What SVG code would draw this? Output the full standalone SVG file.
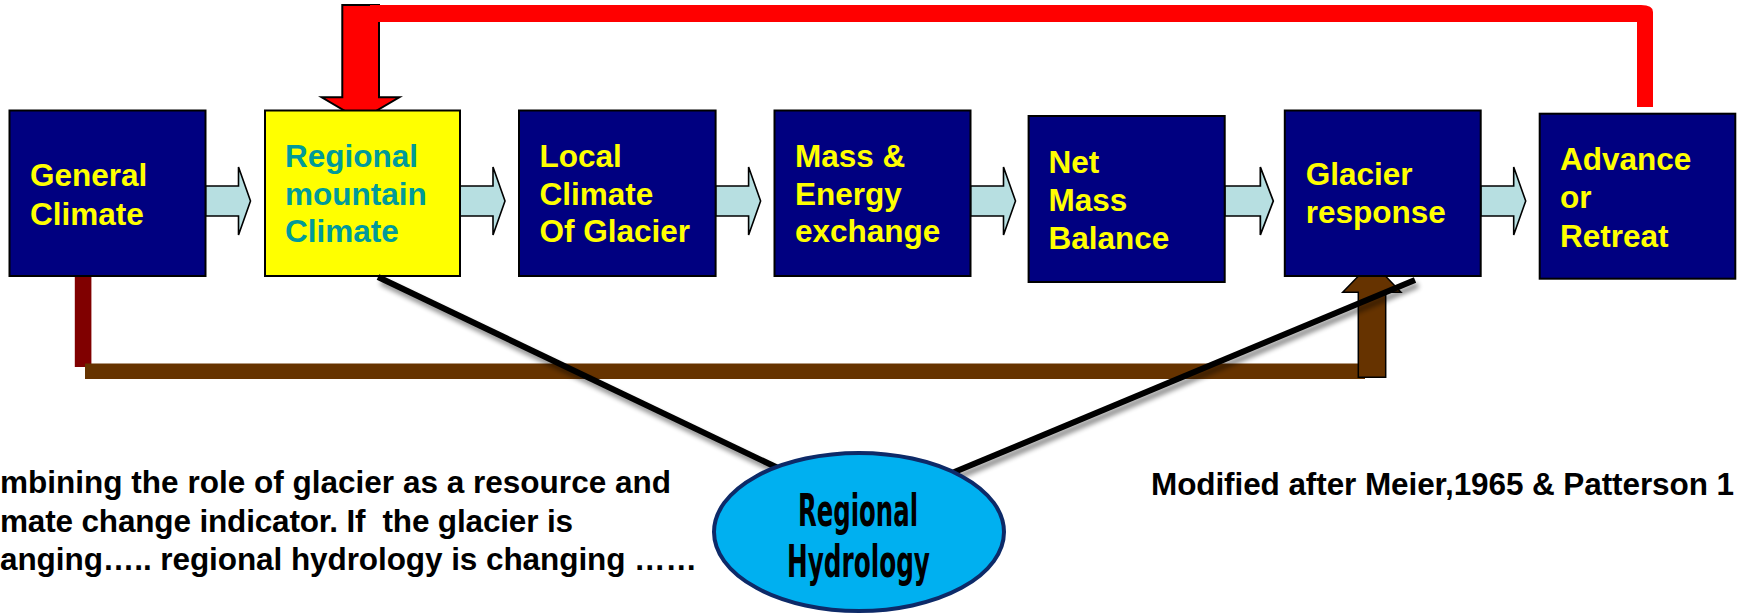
<svg xmlns="http://www.w3.org/2000/svg" width="1738" height="615" viewBox="0 0 1738 615">
  <defs>
    <filter id="softShadow" x="-10%" y="-10%" width="130%" height="140%">
      <feGaussianBlur in="SourceAlpha" stdDeviation="2.5"/>
      <feOffset dx="3" dy="5" result="off"/>
      <feComponentTransfer><feFuncA type="linear" slope="0.45"/></feComponentTransfer>
      <feMerge><feMergeNode/><feMergeNode in="SourceGraphic"/></feMerge>
    </filter>
    <path id="flowArrow" d="M0,0 L33,0 L33,-19 L45,15 L33,49 L33,30 L0,30 Z"/>
  </defs>
  <style>
    .box { fill: #000080; stroke: #000; stroke-width: 2; }
    .boxY { fill: #FFFF00; stroke: #000; stroke-width: 2; }
    .lbl { font-family: "Liberation Sans", Arial, sans-serif; font-weight: bold; font-size: 31.5px; fill: #FFFF00; }
    .lblT { fill: #009A9A; }
    .flow { fill: #B7DFE1; stroke: #000; stroke-width: 1.6; }
    .link { stroke: #000; stroke-width: 6; fill: none; stroke-linecap: butt; }
    .note { font-family: "Liberation Sans", Arial, sans-serif; font-weight: bold; font-size: 31.5px; fill: #000; }
    .hydro { font-family: "Liberation Sans Narrow", "DejaVu Sans Condensed", "Liberation Sans", sans-serif; font-weight: bold; font-size: 44px; fill: #000; }
  </style>

  <rect width="1738" height="615" fill="#fff"/>

  <!-- connectors drawn behind the boxes -->
  <g id="connectors">
    <!-- red feedback loop: Advance or Retreat back to Regional mountain Climate -->
    <g id="feedback">
      <path d="M342.3,5 L379,5 L379,97.3 L399.3,97.3 L360.5,120 L321.7,97.3 L342.3,97.3 Z" fill="#FF0000" stroke="#000" stroke-width="2"/>
      <path d="M370,5 L1641,5 Q1653,5 1653,12 L1653,107 L1637,107 L1637,22 L370,22 Z" fill="#FF0000"/>
    </g>
    <!-- brown bypass: General Climate to Glacier response -->
    <g id="bypass">
      <rect x="74.8" y="275" width="16.6" height="92" fill="#800000"/>
      <rect x="85" y="363.5" width="1280" height="15.5" fill="#663300"/>
      <path d="M1358.3,377.3 L1358.3,292.3 L1342.7,292.3 L1372,262 L1401,292.3 L1385.7,292.3 L1385.7,377.3 Z" fill="#663300" stroke="#000" stroke-width="1.5"/>
    </g>
    <!-- block arrows between stages -->
    <use href="#flowArrow" class="flow" transform="translate(205.5,186)"/>
    <use href="#flowArrow" class="flow" transform="translate(460,186)"/>
    <use href="#flowArrow" class="flow" transform="translate(715.6,186)"/>
    <use href="#flowArrow" class="flow" transform="translate(970.5,186)"/>
    <use href="#flowArrow" class="flow" transform="translate(1224.7,186) scale(1.08,1)"/>
    <use href="#flowArrow" class="flow" transform="translate(1480.7,186)"/>
  </g>

  <g id="general-climate">
    <rect class="box" x="9.5" y="110.5" width="196" height="165.5"/>
    <text class="lbl" x="30" y="186">General</text>
    <text class="lbl" x="30" y="225">Climate</text>
  </g>

  <g id="regional-mountain-climate">
    <rect class="boxY" x="265" y="110.5" width="195" height="165.5"/>
    <text class="lbl lblT" x="285" y="167">Regional</text>
    <text class="lbl lblT" x="285" y="204.5">mountain</text>
    <text class="lbl lblT" x="285" y="242">Climate</text>
  </g>

  <g id="local-climate">
    <rect class="box" x="519" y="110.5" width="196.6" height="165.5"/>
    <text class="lbl" x="539.5" y="167">Local</text>
    <text class="lbl" x="539.5" y="204.5">Climate</text>
    <text class="lbl" x="539.5" y="242">Of Glacier</text>
  </g>

  <g id="mass-energy">
    <rect class="box" x="774.5" y="110.5" width="196" height="165.5"/>
    <text class="lbl" x="795" y="167">Mass &amp;</text>
    <text class="lbl" x="795" y="204.5">Energy</text>
    <text class="lbl" x="795" y="242">exchange</text>
  </g>

  <g id="net-mass-balance">
    <rect class="box" x="1028.6" y="116" width="196.1" height="166"/>
    <text class="lbl" x="1048.5" y="173">Net</text>
    <text class="lbl" x="1048.5" y="211">Mass</text>
    <text class="lbl" x="1048.5" y="249">Balance</text>
  </g>

  <g id="glacier-response">
    <rect class="box" x="1284.8" y="110.5" width="195.9" height="165.5"/>
    <text class="lbl" x="1305.7" y="185">Glacier</text>
    <text class="lbl" x="1305.7" y="223">response</text>
  </g>

  <g id="advance-retreat">
    <rect class="box" x="1539.7" y="113.7" width="195.6" height="165"/>
    <text class="lbl" x="1560" y="170">Advance</text>
    <text class="lbl" x="1560" y="207.5">or</text>
    <text class="lbl" x="1560" y="246.5">Retreat</text>
  </g>

  <!-- hydrology links -->
  <g id="hydrology-links" filter="url(#softShadow)">
    <line class="link" x1="378" y1="277" x2="778" y2="468"/>
    <line class="link" x1="952" y1="473" x2="1415" y2="280"/>
  </g>

  <g id="regional-hydrology">
    <ellipse cx="859" cy="532" rx="145" ry="79" fill="#00B0F0" stroke="#0D2A68" stroke-width="4"/>
    <text class="hydro" x="798" y="526" textLength="120" lengthAdjust="spacingAndGlyphs">Regional</text>
    <text class="hydro" x="787" y="576.5" textLength="143" lengthAdjust="spacingAndGlyphs">Hydrology</text>
  </g>

  <g id="notes">
    <text class="note" x="0" y="493" textLength="671" lengthAdjust="spacing">mbining the role of glacier as a resource and</text>
    <text class="note" x="0" y="531.5" xml:space="preserve" textLength="573" lengthAdjust="spacing">mate change indicator. If  the glacier is</text>
    <text class="note" x="0" y="570" textLength="697" lengthAdjust="spacing">anging….. regional hydrology is changing ……</text>
    <text class="note" x="1151" y="495" font-size="31" textLength="583" lengthAdjust="spacing">Modified after Meier,1965 &amp; Patterson 1</text>
  </g>
</svg>
